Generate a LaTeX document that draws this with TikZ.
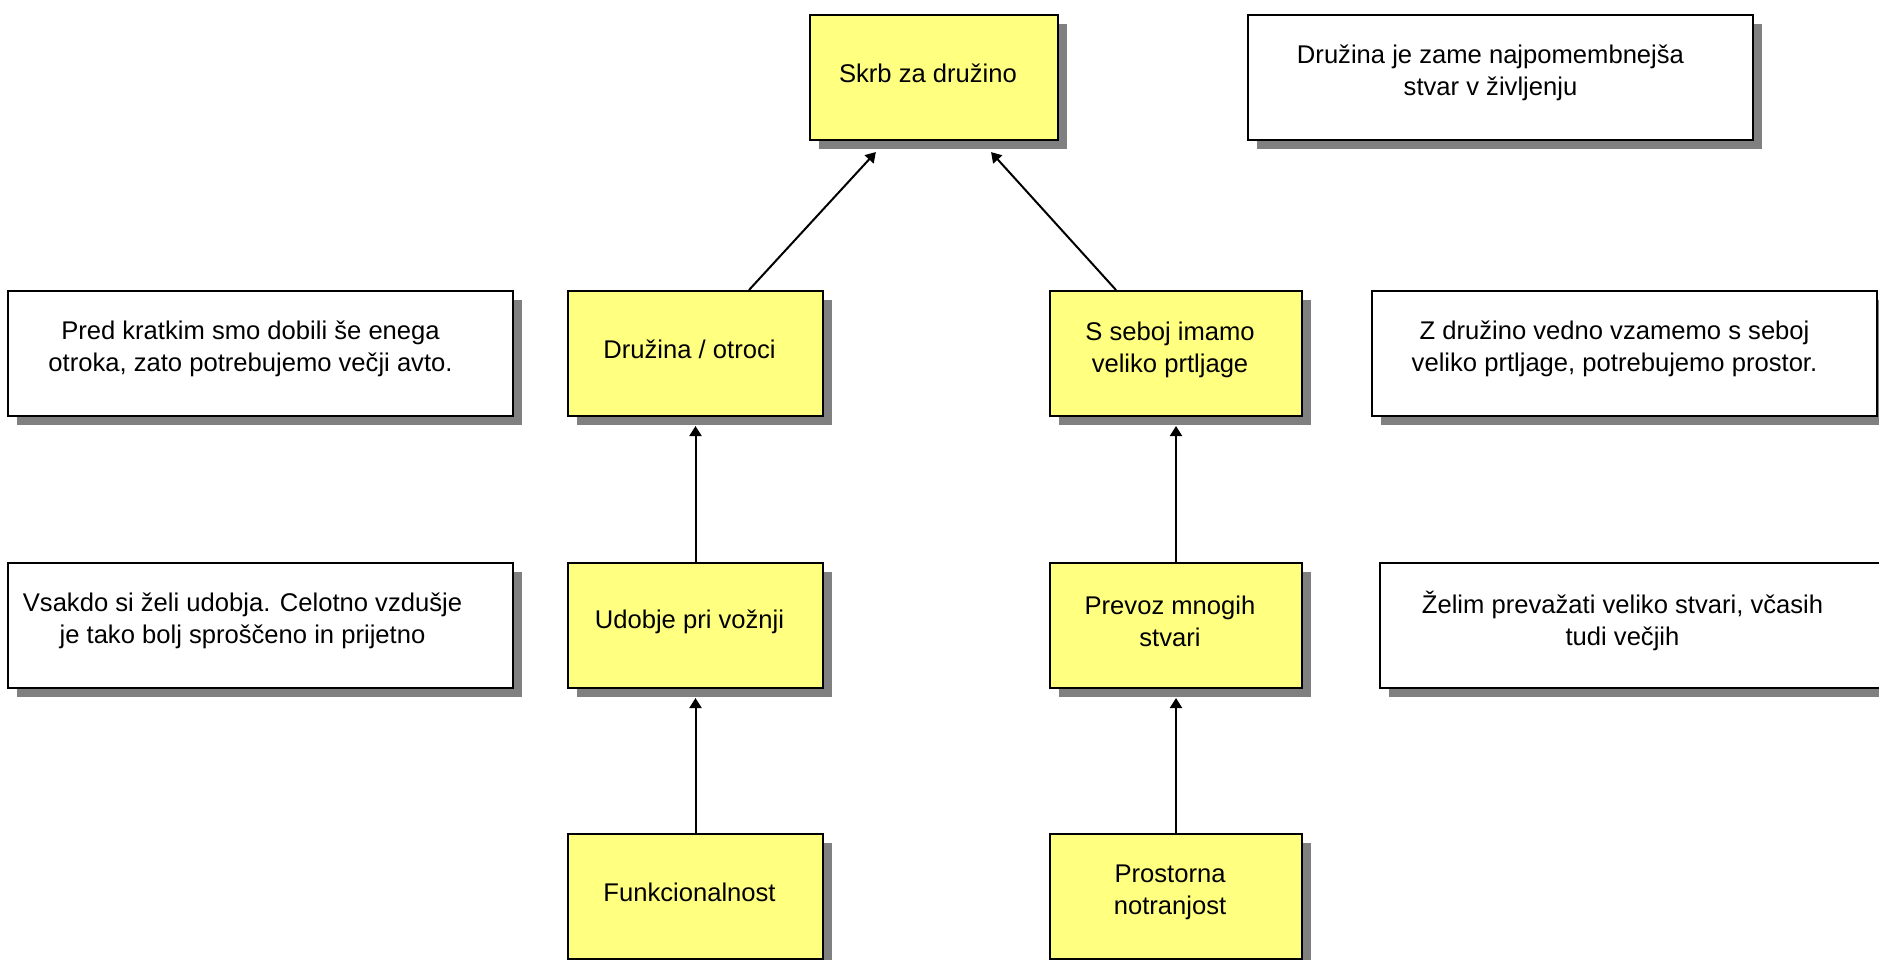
\documentclass[tikz,border=0pt]{standalone}
\usepackage{fontspec}
\setmainfont{Liberation Sans}
\usetikzlibrary{arrows.meta,calc,shadows}

\definecolor{goalfill}{RGB}{255,255,128}
\definecolor{shadowgray}{RGB}{128,128,128}

\tikzset{
  txt/.style={font=\fontsize{12.8}{16}\selectfont, align=center, inner sep=0pt},
  box/.style={rectangle, draw=black, line width=1pt, inner sep=0pt,
    anchor=north west, minimum height=62.5pt,
    drop shadow={shadow xshift=4.5pt, shadow yshift=-4.5pt,
                 fill=shadowgray, opacity=1}},
  % #1 = text, placed slightly up and left of the box centre
  goal/.style={box, fill=goalfill, minimum width=127.5pt,
    label={[txt, xshift=-3pt, yshift=2pt]center:#1}},
  note/.style={box, fill=white, minimum width=252.5pt,
    label={[txt, xshift=-5pt, yshift=2.5pt]center:#1}},
  conn/.style={draw=black, line width=1pt,
    -{Triangle[width=6pt,length=5pt]}, shorten >=4.5pt},
  slant/.style={conn, shorten >=7.5pt}
}

\begin{document}
\begin{tikzpicture}[x=0.5pt, y=-0.5pt]
  \useasboundingbox (0,0) rectangle (1879,959);
  \begin{scope}
    \clip (0,0) rectangle (1879,959);

    % goals
    \node[goal={Skrb za družino}, minimum width=124pt] (care) at (809,14) {};
    \node[goal={Družina / otroci}] (fam) at (567,290) {};
    \node[goal={S seboj imamo\\veliko prtljage}, minimum width=126pt] (lug) at (1049,290) {};
    \node[goal={Udobje pri vožnji}] (comf) at (567,562) {};
    \node[goal={Prevoz mnogih\\stvari}, minimum width=126pt] (carry) at (1049,562) {};
    \node[goal={Funkcionalnost}] (func) at (567,833) {};
    \node[goal={Prostorna\\notranjost}, minimum width=126pt] (space) at (1049,833) {};

    % notes
    \node[note={Družina je zame najpomembnejša\\stvar v življenju}] (ntop) at (1247,14) {};
    \node[note={Pred kratkim smo dobili še enega\\otroka, zato potrebujemo večji avto.}] (nfam) at (7,290) {};
    \node[note={Z družino vedno vzamemo s seboj\\veliko prtljage, potrebujemo prostor.}] (nlug) at (1371,290) {};
    \node[box, fill=white, minimum width=252.5pt,
      label={[txt, xshift=-9pt, yshift=2.5pt]center:{Vsakdo si želi udobja. Celotno vzdušje\\je tako bolj sproščeno in prijetno}}] (ncomf) at (7,562) {};
    \node[note={Želim prevažati veliko stvari, včasih\\tudi večjih}] (ncar) at (1379,562) {};

    % links
    \draw[conn] (comf.north) -- (fam.south);
    \draw[conn] (func.north) -- (comf.south);
    \draw[conn] (carry.north) -- (lug.south);
    \draw[conn] (space.north) -- (carry.south);
    \draw[slant] ($(fam.north west)+(182,0)$) -- ($(care.south)+(-48,0)$);
    \draw[slant] ($(lug.north west)+(67,0)$) -- ($(care.south)+(47,0)$);
  \end{scope}
\end{tikzpicture}
\end{document}
